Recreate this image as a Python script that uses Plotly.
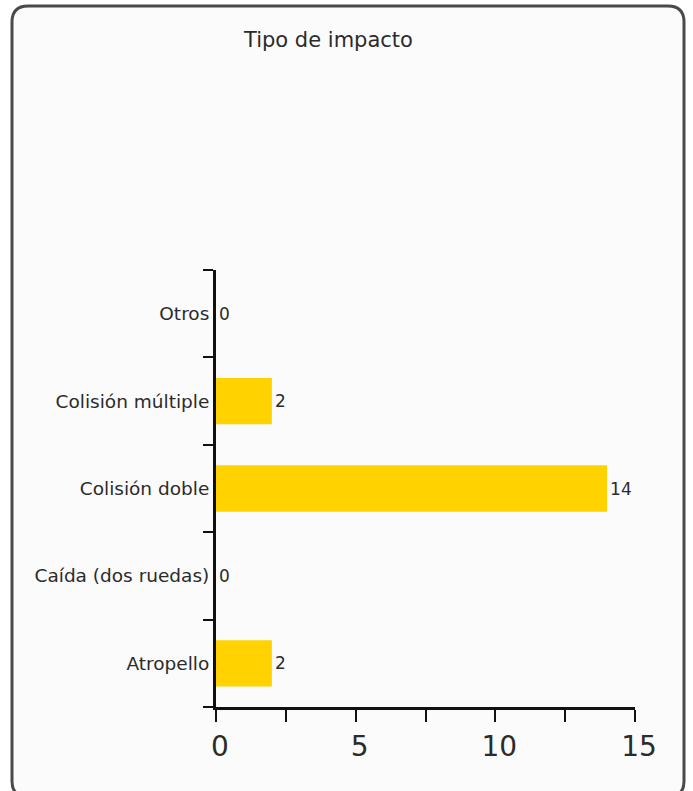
import plotly.graph_objects as go

# Impact types (bottom to top) and number of cases
categories = ["Atropello", "Caída (dos ruedas)", "Colisión doble", "Colisión múltiple", "Otros"]
counts = [2, 0, 14, 2, 0]
x_ticks = [0, 5, 10, 15]
title_text = "Tipo de impacto"

W, H = 693, 791
# plot area in pixels
PL, PR, PT, PB = 216, 635, 270, 707

FONT = "DejaVu Sans"
BAR = "#FFD200"
INK = "#2b2b2b"

fig = go.Figure(
    go.Bar(
        y=categories,
        x=counts,
        orientation="h",
        width=0.53,
        marker=dict(color=BAR, line=dict(width=0)),
        text=[str(v) for v in counts],
        textposition="outside",
        textfont=dict(family=FONT, size=17, color=INK),
        cliponaxis=False,
        hoverinfo="skip",
    )
)


def px_to_paper(xp, yp):
    return (xp - PL) / (PR - PL), (PB - yp) / (PB - PT)


def rounded_frame(x0, y0, x1, y1, r):
    pts = [
        ("M", x0 + r, y0), ("L", x1 - r, y0), ("Q", x1, y0, x1, y0 + r),
        ("L", x1, y1 - r), ("Q", x1, y1, x1 - r, y1), ("L", x0 + r, y1),
        ("Q", x0, y1, x0, y1 - r), ("L", x0, y0 + r), ("Q", x0, y0, x0 + r, y0),
    ]
    out = []
    for p in pts:
        cmd, coords = p[0], p[1:]
        conv = []
        for i in range(0, len(coords), 2):
            a, b = px_to_paper(coords[i], coords[i + 1])
            conv.append(f"{a:.5f},{b:.5f}")
        out.append(cmd + " ".join(conv))
    return " ".join(out) + " Z"


fig.add_shape(
    type="path",
    xref="paper",
    yref="paper",
    path=rounded_frame(12, 6, 684, 797, 16),
    line=dict(color="#4a4a4a", width=3),
    fillcolor="#fbfbfb",
    layer="below",
)

tx, ty = px_to_paper(328, 40)
fig.add_annotation(
    x=tx, y=ty, xref="paper", yref="paper",
    text=title_text, showarrow=False,
    font=dict(family=FONT, size=21, color=INK),
    xanchor="center", yanchor="middle",
)

fig.update_layout(
    width=W,
    height=H,
    margin=dict(l=PL, r=W - PR, t=PT, b=H - PB, pad=0),
    paper_bgcolor="white",
    plot_bgcolor="rgba(0,0,0,0)",
    showlegend=False,
    bargap=0.47,
    xaxis=dict(
        range=[0, 15],
        tickvals=x_ticks,
        ticks="outside",
        ticklen=12,
        tickwidth=2,
        tickcolor="#111",
        showline=True,
        linecolor="#111",
        linewidth=3,
        showgrid=False,
        zeroline=False,
        tickfont=dict(family=FONT, size=28, color=INK),
        ticklabelshift=4,
        minor=dict(dtick=2.5, tick0=0, ticks="outside", ticklen=12, tickwidth=2, tickcolor="#111", showgrid=False),
        fixedrange=True,
    ),
    yaxis=dict(
        type="category",
        categoryorder="array",
        categoryarray=categories,
        tickson="boundaries",
        ticks="outside",
        ticklen=10,
        tickwidth=2,
        tickcolor="#111",
        showline=True,
        linecolor="#111",
        linewidth=3,
        showgrid=False,
        zeroline=False,
        tickfont=dict(family=FONT, size=18.5, color=INK),
        fixedrange=True,
    ),
)

fig.write_html("out.html")
